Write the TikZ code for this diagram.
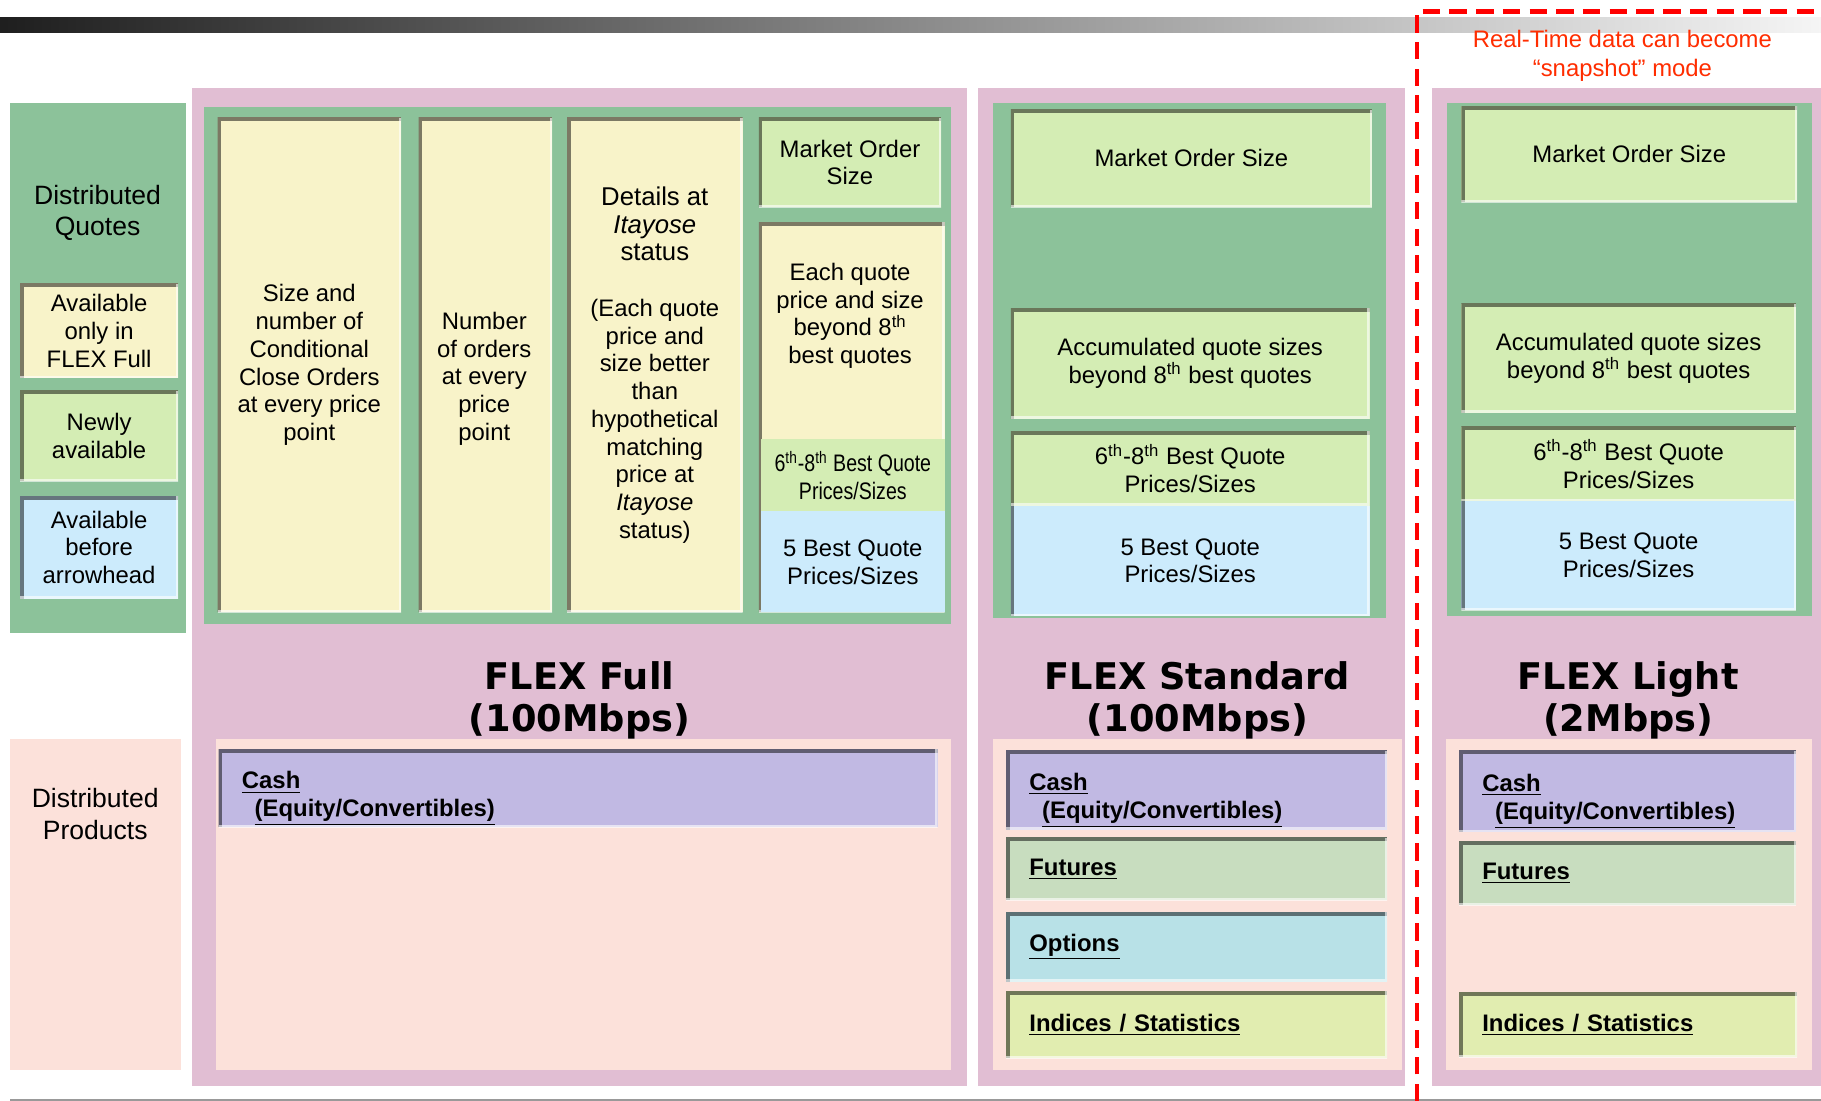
\documentclass[tikz,border=0pt]{standalone}
\usepackage{fontspec}
\setmainfont{Liberation Sans}
\newfontfamily\titlefont{DejaVu Sans}
\newfontfamily\narrowfont[FakeStretch=0.82]{Liberation Sans}
\definecolor{qgreen}{RGB}{140,194,154}
\definecolor{pinkp}{RGB}{225,190,211}
\definecolor{peach}{RGB}{252,225,218}
\definecolor{cream}{RGB}{248,243,201}
\definecolor{lgreen}{RGB}{212,237,180}
\definecolor{lblue}{RGB}{204,235,252}
\definecolor{lav}{RGB}{193,185,227}
\definecolor{futgreen}{RGB}{200,221,191}
\definecolor{optblue}{RGB}{184,225,231}
\definecolor{idxyellow}{RGB}{225,237,176}
\definecolor{snapred}{RGB}{255,45,0}
\newcommand\bigline{\fontsize{12.6}{15}\selectfont}
\newcommand\cashtxt{\rule{0pt}{6.5mm}\underline{Cash}\\\hspace*{2.2mm}\underline{(Equity/Convertibles)}}
\tikzset{
  wh/.style 2 args={minimum width=#1*0.2mm, minimum height=#2*0.2mm},
  cell/.style={rectangle, inner sep=0pt, anchor=north west, align=center, fill=#1,
    path picture={
      \draw[line width=1.2mm, #1!50!black] (path picture bounding box.south west) -- (path picture bounding box.north west) -- (path picture bounding box.north east);
      \draw[line width=0.8mm, white, opacity=.6] (path picture bounding box.north east) -- (path picture bounding box.south east) -- (path picture bounding box.south west);}},
  lcell/.style={rectangle, inner sep=0pt, anchor=north west, align=center, fill=#1,
    path picture={
      \draw[line width=1.2mm, #1!50!black] (path picture bounding box.south west) -- (path picture bounding box.north west);
      \draw[line width=0.8mm, white, opacity=.6] (path picture bounding box.north east) -- (path picture bounding box.south east) -- (path picture bounding box.south west);}},
  flat/.style={rectangle, inner sep=0pt, anchor=north west, align=center, fill=#1},
  prod/.style={cell=#1, align=left, font=\fontsize{11.7}{13.6}\selectfont\bfseries},
  title/.style={align=center, font=\titlefont\bfseries\fontsize{18}{21}\selectfont},
}
\begin{document}
\begin{tikzpicture}[x=0.2mm, y=-0.2mm, font=\fontsize{11.7}{13.6}\selectfont]
	%%%%% FRAME %%%%%
	\fill[white] (0,0) rectangle (1568,948);
	\useasboundingbox (0,0) rectangle (1568,948);
	\shade[left color=black!88, right color=black!4] (0,15) rectangle (1568,28);
	\draw[black!40, line width=0.4mm] (9,947) -- (1568,947);
	
	%%%%% LEGEND %%%%%
	\fill[qgreen] (9,89) rectangle (160,545);
	\node[align=center, font=\fontsize{13}{15.3}\selectfont] (quotes) at (84,183) {Distributed\\Quotes};
	\node[cell=cream, wh={136}{81}] (fullonly) at (17,244) {Available\\only in\\FLEX Full};
	\node[cell=lgreen, wh={136}{78}] (newly) at (17,336) {Newly\\available};
	\node[cell=lblue, wh={136}{88}] (before) at (17,427) {Available\\before\\arrowhead};
	
	\fill[peach] (9,636) rectangle (156,921);
	\node[align=center, font=\fontsize{13}{15.3}\selectfont] (products) at (82,701) {Distributed\\Products};
	
	%%%%% FLEX FULL %%%%%
	\fill[pinkp] (165,76) rectangle (833,935);
	\fill[qgreen] (176,92) rectangle (819,537);
	\node[cell=cream, wh={158}{426}] (fullcond) at (187,101) {Size and\\number of\\Conditional\\Close Orders\\at every price\\point};
	\node[cell=cream, wh={115}{426}] (fullnum) at (360,101) {};
	\node[align=center] (fullnumtxt) at (417,326) {Number\\of orders\\at every\\price\\point};
	\node[cell=cream, wh={151}{426}] (fullita) at (488,101) {\bigline Details at\\\bigline\textit{Itayose}\\\bigline status\\[13.6pt](Each quote\\price and\\size better\\than\\hypothetical\\matching\\price at\\\textit{Itayose}\\status)};
	\node[cell=lgreen, wh={157}{77}] (fullmkt) at (653,101) {Market Order\\Size};
	\node[cell=cream, wh={160}{336}] (fulleach) at (653,191) {};
	\node[flat=lgreen, wh={158}{62}] (full68) at (655,378) {\narrowfont 6\textsuperscript{th}-8\textsuperscript{th} Best Quote\\\narrowfont Prices/Sizes};
	\node[flat=lblue, wh={158}{87}] (full5) at (655,440) {5 Best Quote\\Prices/Sizes};
	\node[align=center] (fulleachtxt) at (732,272) {Each quote\\price and size\\beyond 8\textsuperscript{th}\\best quotes};
	
	\node[title] (fulltitle) at (499,603) {FLEX Full\\(100Mbps)};
	\fill[peach] (186,636) rectangle (819,921);
	\node[prod=lav, wh={619}{67}, text width=115.8mm] (fullcash) at (188,645) {\cashtxt};
	
	%%%%% FLEX STANDARD %%%%%
	\fill[pinkp] (842,76) rectangle (1210,935);
	\fill[qgreen] (855,89) rectangle (1193,532);
	\node[cell=lgreen, wh={311}{84}] (stdmkt) at (870,94) {Market Order Size};
	\node[cell=lgreen, wh={309}{95}] (stdacc) at (870,265) {Accumulated quote sizes\\beyond 8\textsuperscript{th} best quotes};
	\node[cell=lgreen, wh={309}{64}] (std68) at (870,371) {6\textsuperscript{th}-8\textsuperscript{th} Best Quote\\Prices/Sizes};
	\node[lcell=lblue, wh={309}{95}] (std5) at (870,435) {5 Best Quote\\Prices/Sizes};
	
	\node[title] (stdtitle) at (1031,603) {FLEX Standard\\(100Mbps)};
	\fill[peach] (855,636) rectangle (1207,921);
	\node[prod=lav, wh={328}{68}, text width=57.6mm] (stdcash) at (866,646) {\cashtxt};
	\node[prod=futgreen, wh={328}{54}, text width=57.6mm] (stdfut) at (866,721) {\underline{Futures}};
	\node[prod=optblue, wh={328}{60}, text width=57.6mm] (stdopt) at (866,785) {\underline{Options}};
	\node[prod=idxyellow, wh={328}{58}, text width=57.6mm] (stdidx) at (866,853) {\underline{Indices / Statistics}};
	
	%%%%% SNAPSHOT %%%%%
	\draw[red, line width=0.8mm, dash pattern=on 3mm off 1.6mm] (1220,948) -- (1220,10) -- (1568,10);
	\node[align=center, text=snapred, font=\fontsize{11.7}{14.2}\selectfont] (snapnote) at (1397,48) {Real-Time data can become\\“snapshot” mode};
	
	%%%%% FLEX LIGHT %%%%%
	\fill[pinkp] (1233,76) rectangle (1568,935);
	\fill[qgreen] (1246,89) rectangle (1560,530);
	\node[cell=lgreen, wh={289}{83}] (litmkt) at (1258,91) {Market Order Size};
	\node[cell=lgreen, wh={288}{94}] (litacc) at (1258,261) {Accumulated quote sizes\\beyond 8\textsuperscript{th} best quotes};
	\node[cell=lgreen, wh={288}{64}] (lit68) at (1258,367) {6\textsuperscript{th}-8\textsuperscript{th} Best Quote\\Prices/Sizes};
	\node[lcell=lblue, wh={288}{94}] (lit5) at (1258,431) {5 Best Quote\\Prices/Sizes};
	
	\node[title] (littitle) at (1402,603) {FLEX Light\\(2Mbps)};
	\fill[peach] (1245,636) rectangle (1560,921);
	\node[prod=lav, wh={290}{70}, text width=50mm] (litcash) at (1256,646) {\cashtxt};
	\node[prod=futgreen, wh={290}{55}, text width=50mm] (litfut) at (1256,724) {\underline{Futures}};
	\node[prod=idxyellow, wh={291}{56}, text width=50.2mm] (litidx) at (1256,854) {\underline{Indices / Statistics}};
\end{tikzpicture}
\end{document}
